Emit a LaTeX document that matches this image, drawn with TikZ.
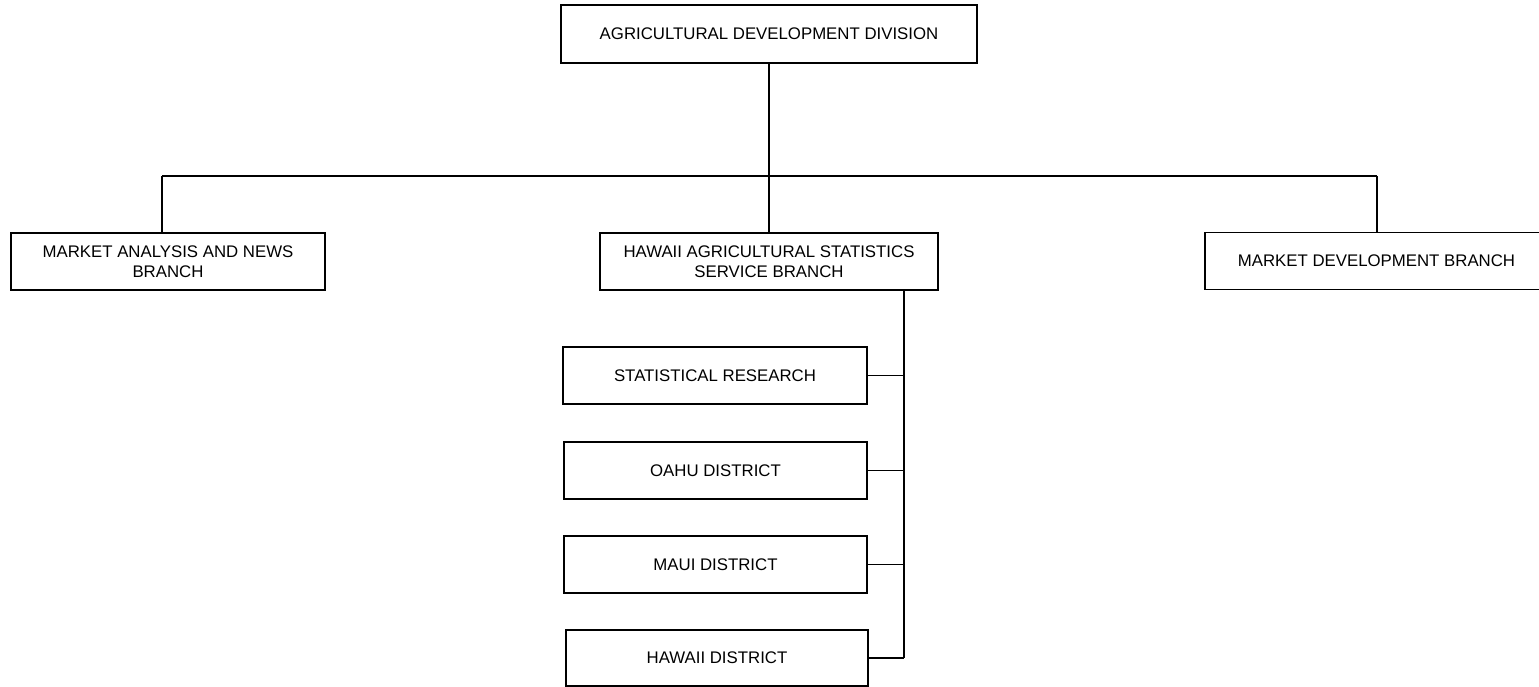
\documentclass[tikz,border=0pt]{standalone}
\usepackage{fontspec}
\setmainfont{Liberation Sans}
\begin{document}
\begin{tikzpicture}[x=1pt,y=-1pt,
  box/.style={draw, line width=1.5pt, inner sep=0pt, align=center,
    font=\fontsize{16.8}{19.5}\selectfont},
  conn/.style={line width=1.5pt}]
\useasboundingbox (0,0) rectangle (1539,687);
\fill[white] (0,0) rectangle (1539,687);
% nodes
\node[box, minimum width=416pt, minimum height=58pt] (div) at (769,34) {AGRICULTURAL DEVELOPMENT DIVISION};
\node[box, minimum width=314pt, minimum height=57pt] (left) at (168,261.5) {MARKET ANALYSIS AND NEWS\\BRANCH};
\node[box, minimum width=338pt, minimum height=57pt] (mid) at (769,261.5) {HAWAII AGRICULTURAL STATISTICS\\SERVICE BRANCH};
\node[box, minimum width=343pt, minimum height=57pt] (right) at (1376.5,261) {MARKET DEVELOPMENT BRANCH};
\node[box, minimum width=304pt, minimum height=57pt] (stat) at (715,375.5) {STATISTICAL RESEARCH};
\node[box, minimum width=303pt, minimum height=57pt] (oahu) at (715.5,470.5) {OAHU DISTRICT};
\node[box, minimum width=303pt, minimum height=57pt] (maui) at (715.5,564.5) {MAUI DISTRICT};
\node[box, minimum width=302pt, minimum height=56pt] (hawd) at (717,658) {HAWAII DISTRICT};
% connectors
\coordinate (barL) at (162,176);
\coordinate (barR) at (1377,176);
\coordinate (sp) at (904,0);
\draw[conn] (div.south) -- (mid.north);
\draw[conn] (barL) -- (barR);
\draw[conn] (barL) -- (barL |- left.north);
\draw[conn] (barR) -- (barR |- right.north);
\draw[conn] (sp |- mid.south) -- (sp |- hawd.east);
\draw[conn] (stat.east) -- (sp |- stat.east);
\draw[conn] (oahu.east) -- (sp |- oahu.east);
\draw[conn] (maui.east) -- (sp |- maui.east);
\draw[conn] (hawd.east) -- (sp |- hawd.east);
\end{tikzpicture}
\end{document}
